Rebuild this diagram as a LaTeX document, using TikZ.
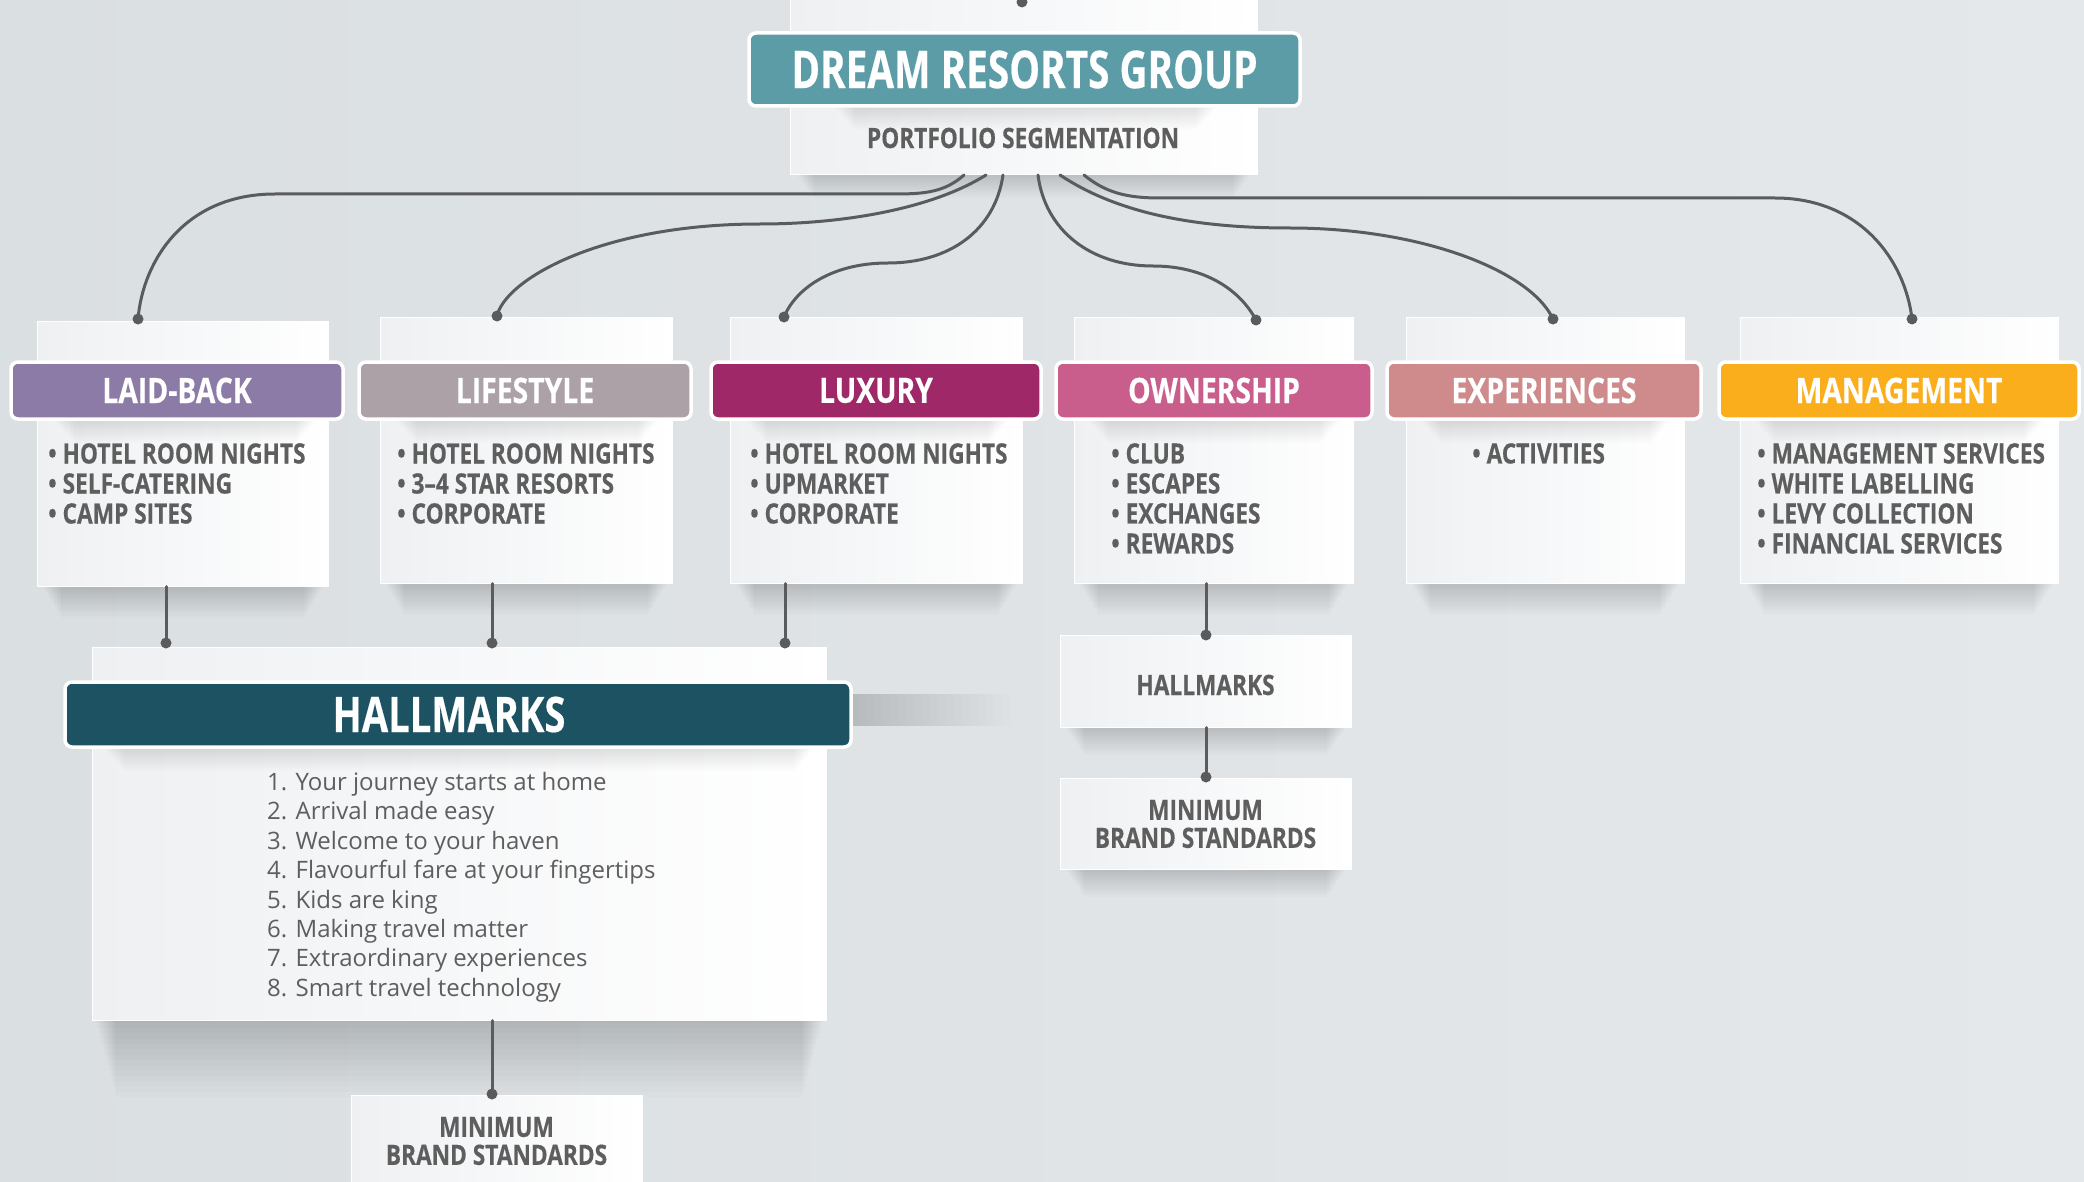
\documentclass[tikz,border=0pt]{standalone}
\usepackage{fontspec}
\setmainfont{Open Sans}
\newfontfamily\condT[FakeStretch=0.745,FakeBold=0.4]{Open Sans}
\newfontfamily\condB[FakeStretch=0.81,FakeBold=0.4]{Open Sans}
\newfontfamily\condM[FakeStretch=0.78,FakeBold=0.4]{Open Sans}
\usetikzlibrary{calc}
\definecolor{bgL}{RGB}{218,223,226}
\definecolor{bgR}{RGB}{229,232,235}
\definecolor{cardA}{RGB}{238,240,242}
\definecolor{txt}{RGB}{94,94,94}
\definecolor{lin}{RGB}{90,91,92}
\definecolor{cTeal}{RGB}{92,156,166}
\definecolor{cLB}{RGB}{140,123,166}
\definecolor{cLS}{RGB}{172,161,167}
\definecolor{cLX}{RGB}{158,40,104}
\definecolor{cOW}{RGB}{201,94,141}
\definecolor{cEX}{RGB}{207,139,140}
\definecolor{cMG}{RGB}{251,174,27}
\definecolor{cHM}{RGB}{29,82,99}
\newcommand\softsh[5]{%
  \foreach \k in {1,...,16}{\fill[black,opacity=#5] ({#1+\k*1.5},#3) rectangle ({#2-\k*1.5},{#3+#4*\k/16});}}
\tikzset{
  card/.style={inner sep=0, left color=cardA, right color=white, draw=white, line width=1},
  hdr/.style={rounded corners=7, draw=white, line width=3.5, inner sep=0, text=white,
              minimum height=57, font=\condB\bfseries\fontsize{35}{40}\selectfont},
  blist/.style={anchor=north west, inner sep=0, align=left, text=txt,
              font=\condB\bfseries\fontsize{28}{30}\selectfont},
  lbl/.style={inner sep=0, align=center, text=txt, font=\condB\bfseries\fontsize{28}{28}\selectfont},
  conn/.style={draw=lin, line width=3, line cap=round},
}
\begin{document}
\begin{tikzpicture}[x=1pt,y=-1pt]
\useasboundingbox (0,0) rectangle (2084,1182);
\shade[left color=bgL, right color=bgR] (0,0) rectangle (2084,1182);

% ---------- shadows of cards ----------
\softsh{790}{1257}{168}{30}{0.01}
\softsh{37}{328}{580}{38}{0.01}
\softsh{380}{672}{577}{38}{0.01}
\softsh{730}{1022}{577}{38}{0.01}
\softsh{1074}{1353}{577}{38}{0.01}
\softsh{1406}{1684}{577}{38}{0.01}
\softsh{1740}{2058}{577}{38}{0.01}
\softsh{1060}{1351}{721}{34}{0.01}
\softsh{1060}{1351}{863}{34}{0.01}
\softsh{92}{826}{1012}{85}{0.011}
\foreach \k in {1,...,20}{\fill[black,opacity=0.009] (851,694) rectangle ({851+\k*8},726);}

% ---------- top card ----------
\node[card, minimum width=467, minimum height=176] (top) at (1023.5,87) {};
\softsh{830}{1220}{104}{26}{0.006}
\node[hdr, fill=cTeal, minimum width=551, minimum height=73,
      font=\condT\bfseries\fontsize{52}{60}\selectfont] (title) at (1024.5,69.5) {DREAM RESORTS GROUP};
\node[lbl] (sub) at (1023,138) {PORTFOLIO SEGMENTATION};

% ---------- category cards ----------
\node[card, minimum width=291, minimum height=265] (kLB) at (182.5,453.5) {};
\node[card, minimum width=292, minimum height=266] (kLS) at (526,450) {};
\node[card, minimum width=292, minimum height=266] (kLX) at (876,450) {};
\node[card, minimum width=279, minimum height=266] (kOW) at (1213.5,450) {};
\node[card, minimum width=278, minimum height=266] (kEX) at (1545,450) {};
\node[card, minimum width=318, minimum height=266] (kMG) at (1899,450) {};
\softsh{50}{320}{417}{26}{0.006}
\softsh{392}{662}{417}{26}{0.006}
\softsh{742}{1012}{417}{26}{0.006}
\softsh{1084}{1344}{417}{26}{0.006}
\softsh{1416}{1674}{417}{26}{0.006}
\softsh{1750}{2048}{417}{26}{0.006}

\node[hdr, fill=cLB, minimum width=332] (hLB) at (177,390.5) {LAID-BACK};
\node[hdr, fill=cLS, minimum width=332] (hLS) at (525,390.5) {LIFESTYLE};
\node[hdr, fill=cLX, minimum width=330] (hLX) at (876,390.5) {LUXURY};
\node[hdr, fill=cOW, minimum width=316] (hOW) at (1214,390.5) {OWNERSHIP};
\node[hdr, fill=cEX, minimum width=314] (hEX) at (1544,390.5) {EXPERIENCES};
\node[hdr, fill=cMG, minimum width=360] (hMG) at (1899,390.5) {MANAGEMENT};

\node[blist] (lLB) at (48,443) {• HOTEL ROOM NIGHTS\\• SELF-CATERING\\• CAMP SITES};
\node[blist] (lLS) at (397,443) {• HOTEL ROOM NIGHTS\\• 3–4 STAR RESORTS\\• CORPORATE};
\node[blist] (lLX) at (750,443) {• HOTEL ROOM NIGHTS\\• UPMARKET\\• CORPORATE};
\node[blist] (lOW) at (1111,443) {• CLUB\\• ESCAPES\\• EXCHANGES\\• REWARDS};
\node[blist] (lEX) at (1472,443) {• ACTIVITIES};
\node[blist] (lMG) at (1757,443) {• MANAGEMENT SERVICES\\• WHITE LABELLING\\• LEVY COLLECTION\\• FINANCIAL SERVICES};

% ---------- hallmarks (left) ----------
\node[card, minimum width=734, minimum height=373] (kHM) at (459,833.5) {};
\softsh{100}{818}{745}{26}{0.006}
\node[hdr, fill=cHM, minimum width=786, minimum height=65] (hHM) at (458,714.5) {};
\node[inner sep=0, text=white, font=\condM\bfseries\fontsize{49}{56}\selectfont] (tHM) at (449,714.5) {HALLMARKS};
\node[anchor=north west, inner sep=0, align=left, text=txt,
      font=\rmfamily\fontsize{24}{29.4}\selectfont] (lHM) at (267,772)
 {1. Your journey starts at home\\2. Arrival made easy\\3. Welcome to your haven\\4. Flavourful fare at your fingertips\\5. Kids are king\\6. Making travel matter\\7. Extraordinary experiences\\8. Smart travel technology};

% ---------- small cards ----------
\node[card, minimum width=291, minimum height=92] (kHS) at (1205.5,681) {};
\node[lbl, font=\condB\bfseries\fontsize{28}{28}\selectfont] (tHS) at (1205.5,685) {HALLMARKS};
\node[card, minimum width=291, minimum height=91] (kM1) at (1205.5,823.5) {};
\node[lbl] (tM1) at (1205.5,824) {MINIMUM\\BRAND STANDARDS};
\node[card, minimum width=291, minimum height=100] (kM2) at (496.5,1145) {};
\node[lbl] (tM2) at (496.5,1141) {MINIMUM\\BRAND STANDARDS};

% ---------- connector end points ----------
\coordinate (s0) at (1022,2);
\coordinate (s1) at (964,175);
\coordinate (s2) at (986,175);
\coordinate (s3) at (1003,175);
\coordinate (s4) at (1038,175);
\coordinate (s5) at (1060,175);
\coordinate (s6) at (1084,175);
\coordinate (d1) at (138,319);
\coordinate (d2) at (497,316);
\coordinate (d3) at (784,317);
\coordinate (d4) at (1256,320);
\coordinate (d5) at (1553,319);
\coordinate (d6) at (1912,319);
\coordinate (b1) at (166,643);
\coordinate (b2) at (492,643);
\coordinate (b3) at (785,643);
\coordinate (b4) at (1206,635);
\coordinate (b5) at (1206,777);
\coordinate (b6) at (492,1094);

\draw[conn] (s1) .. controls (945,192) and (925,194) .. (895,194) -- (275,194)
            .. controls (185,194) and (143,260) .. (d1);
\draw[conn] (s2) .. controls (930,210) and (840,224) .. (760,224)
            .. controls (600,224) and (505,280) .. (d2);
\draw[conn] (s3) .. controls (995,230) and (950,263) .. (888,263)
            .. controls (830,263) and (795,290) .. (d3);
\draw[conn] (s4) .. controls (1045,230) and (1090,266) .. (1153,266)
            .. controls (1205,266) and (1240,290) .. (d4);
\draw[conn] (s5) .. controls (1120,215) and (1200,228) .. (1290,228)
            .. controls (1420,228) and (1530,270) .. (d5);
\draw[conn] (s6) .. controls (1105,192) and (1125,198) .. (1160,198) -- (1775,198)
            .. controls (1860,198) and (1905,260) .. (d6);

\draw[conn] (b1 |- kLB.south) -- (b1);
\draw[conn] (b2 |- kLS.south) -- (b2);
\draw[conn] (b3 |- kLX.south) -- (b3);
\draw[conn] (b4 |- kOW.south) -- (b4);
\draw[conn] (b5 |- kHS.south) -- (b5);
\draw[conn] (b6 |- kHM.south) -- (b6);

\foreach \p in {s0,d1,d2,d3,d4,d5,d6,b1,b2,b3,b4,b5,b6}{\fill[lin] (\p) circle (5.5);}
\end{tikzpicture}
\end{document}
